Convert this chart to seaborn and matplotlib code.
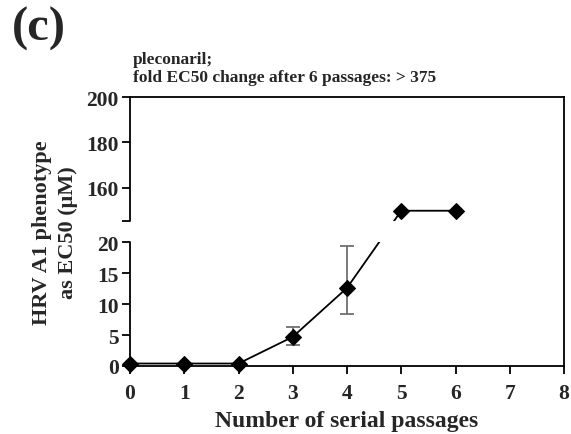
import numpy as np
import pandas as pd
import matplotlib
matplotlib.use("Agg")
import matplotlib.pyplot as plt
import seaborn as sns

# ---- data ----
passages = [0, 1, 2, 3, 4, 5, 6]
ec50 = [0.4, 0.4, 0.4, 4.7, 12.6, 150, 150]
err_x = [3, 4]
err_mid = [4.7, 12.6]
err_low = [3.4, 8.4]
err_high = [6.3, 19.4]
x_ticks = [0, 1, 2, 3, 4, 5, 6, 7, 8]
y_ticks = [0, 5, 10, 15, 20, 145.5, 160, 180, 200]
y_ticklabels = ["0", "5", "10", "15", "20", "", "160", "180", "200"]

title_panel = "(c)"
subtitle = "pleconaril;\nfold EC50 change after 6 passages: > 375"
xlabel = "Number of serial passages"
ylabel = "HRV A1 phenotype\nas EC50 (\u03bcM)"

# ---- broken axis definition ----
LO_TOP = 20.0
HI_BOT = 145.5
HI_TOP = 200.0
GAP = 3.4                      # gap height in lower-axis units
K = LO_TOP / (HI_TOP - HI_BOT)  # upper segment same height as lower


def fwd(y):
    y = np.asarray(y, dtype=float)
    mid = LO_TOP + (y - LO_TOP) * GAP / (HI_BOT - LO_TOP)
    hi = LO_TOP + GAP + (y - HI_BOT) * K
    return np.where(y <= LO_TOP, y, np.where(y >= HI_BOT, hi, mid))


def inv(t):
    t = np.asarray(t, dtype=float)
    mid = LO_TOP + (t - LO_TOP) * (HI_BOT - LO_TOP) / GAP
    hi = HI_BOT + (t - LO_TOP - GAP) / K
    return np.where(t <= LO_TOP, t, np.where(t >= LO_TOP + GAP, hi, mid))


sns.set_theme(style="ticks")
plt.rcParams["font.family"] = ["Liberation Serif", "DejaVu Serif"]
plt.rcParams["font.weight"] = "bold"

fig = plt.figure(figsize=(5.71, 4.35), dpi=100)
W, H = 571, 435
ax = fig.add_axes([130 / W, (H - 367) / H, (564 - 130) / W, (367 - 98) / H])
ax.set_yscale("function", functions=(fwd, inv))
ax.set_xlim(0, 8)
ax.set_ylim(0, HI_TOP)

df = pd.DataFrame({"passage": passages, "ec50": ec50})
sns.lineplot(data=df, x="passage", y="ec50", ax=ax, color="black", lw=1.3,
             marker="D", markersize=8, markeredgecolor="black",
             clip_on=False, zorder=2)

lo = np.array(err_mid) - np.array(err_low)
hi = np.array(err_high) - np.array(err_mid)
ax.errorbar(err_x, err_mid, yerr=[lo, hi], fmt="none", ecolor="#707070",
            elinewidth=1.3, capsize=5, capthick=1.3, zorder=1.9)

# blank the gap
ax.axhspan(LO_TOP, HI_BOT, color="white", zorder=2.2, lw=0)

# spines
for s in ["top", "right", "bottom"]:
    ax.spines[s].set_linewidth(1.3)
    ax.spines[s].set_color("black")
    ax.spines[s].set_zorder(2.5)
ax.spines["left"].set_visible(False)
top_t = float(fwd(HI_TOP))
ax.axvline(0, ymin=0, ymax=float(fwd(LO_TOP)) / top_t, color="black",
           lw=1.3, clip_on=False, zorder=2.5)
ax.axvline(0, ymin=float(fwd(HI_BOT)) / top_t, ymax=1, color="black",
           lw=1.3, clip_on=False, zorder=2.5)

ax.set_xticks(x_ticks)
ax.set_xticklabels([str(v) for v in x_ticks])
ax.set_yticks(y_ticks)
ax.set_yticklabels(y_ticklabels)
ax.set_yticks([LO_TOP, HI_BOT], minor=True)
ax.tick_params(axis="y", which="major", direction="out", length=6,
               width=1.3, color="black", labelsize=15.5, pad=2)
ax.tick_params(axis="x", which="major", direction="out", length=6,
               width=1.3, color="black", labelsize=15.5, pad=6)
ax.tick_params(axis="y", which="minor", direction="in", length=6,
               width=1.3, color="black")
ax.tick_params(axis="x", which="minor", length=0)
for lab in ax.get_xticklabels() + ax.get_yticklabels():
    lab.set_fontweight("bold")

ax.set_xlabel(xlabel, fontsize=17, fontweight="bold", labelpad=5)
ax.set_ylabel(ylabel, fontsize=16, fontweight="bold", labelpad=6,
              linespacing=1.4)
ax.grid(False)

fig.text(12 / W, 1 - 7 / H, title_panel, fontsize=35, fontweight="bold",
         va="top", ha="left")
fig.text(133 / W, 1 - 52 / H, subtitle, fontsize=12.5, fontweight="bold",
         va="top", ha="left", linespacing=1.2)

fig.savefig("out.png", dpi=100, facecolor="white")
